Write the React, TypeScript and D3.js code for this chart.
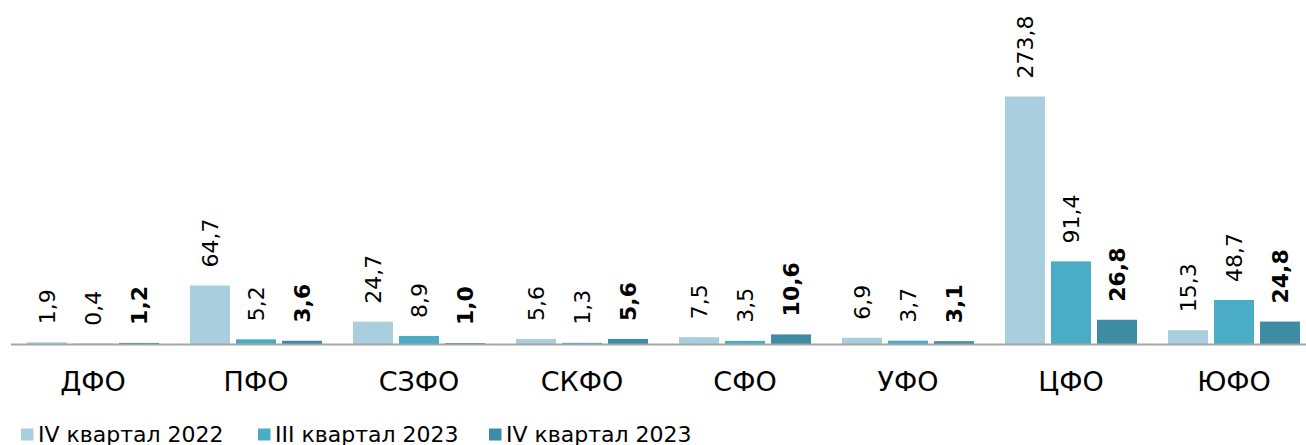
import React from "react";
import * as d3 from "d3";

const categories = ["ДФО", "ПФО", "СЗФО", "СКФО", "СФО", "УФО", "ЦФО", "ЮФО"];
const seriesNames = ["IV квартал 2022", "III квартал 2023", "IV квартал 2023"];
const q4_2022 = [1.9, 64.7, 24.7, 5.6, 7.5, 6.9, 273.8, 15.3];
const q3_2023 = [0.4, 5.2, 8.9, 1.3, 3.5, 3.7, 91.4, 48.7];
const q4_2023 = [1.2, 3.6, 1.0, 5.6, 10.6, 3.1, 26.8, 24.8];

const seriesValues = [q4_2022, q3_2023, q4_2023];
const colors = ["#a9cedd", "#4bacc6", "#3e8ca3"];

const W = 1306;
const H = 445;
const FONT = "'DejaVu Sans', sans-serif";

export default function App() {
  const x = d3.scaleBand<string>().domain(categories).range([11.5, 1315.5]).paddingInner(0).paddingOuter(0);
  const inner = d3
    .scaleBand<number>()
    .domain([0, 1, 2])
    .range([15.5, x.bandwidth() - 15.5])
    .paddingInner(6 / 46);
  const y = d3.scaleLinear().domain([0, 273.8]).range([344, 96.5]);
  const fmt = (v: number) => d3.format(".1f")(v).replace(".", ",");

  const legendX = [21, 258, 489];

  return (
    <svg
      width={W}
      height={H}
      style={{ position: "absolute", left: 0, top: 0, background: "#fff" }}
      fontFamily={FONT}
    >
      {categories.map((c, ci) => (
        <g key={c} transform={`translate(${x(c)},0)`}>
          {seriesValues.map((vals, si) => {
            const v = vals[ci];
            const bx = inner(si)!;
            const bw = inner.bandwidth();
            const top = y(v);
            const cx = bx + bw / 2;
            const ly = top - 18;
            return (
              <g key={si}>
                <rect x={bx} y={top} width={bw} height={y(0) - top} fill={colors[si]} />
                <text
                  transform={`translate(${cx},${ly}) rotate(-90)`}
                  dy="0.36em"
                  fontSize={22}
                  fontWeight={si === 2 ? "bold" : "normal"}
                  fill="#000"
                >
                  {fmt(v)}
                </text>
              </g>
            );
          })}
          <text x={x.bandwidth() / 2} y={391} textAnchor="middle" fontSize={27} fill="#000">
            {c}
          </text>
        </g>
      ))}
      <line x1={11} x2={W} y1={y(0) + 0.5} y2={y(0) + 0.5} stroke="#a6a6a6" strokeWidth={2} />
      {seriesNames.map((n, i) => (
        <g key={n} transform={`translate(${legendX[i]},0)`}>
          <rect x={0} y={428.5} width={12.5} height={12} fill={colors[i]} />
          <text x={17} y={442} fontSize={22} fill="#000">
            {n}
          </text>
        </g>
      ))}
    </svg>
  );
}
